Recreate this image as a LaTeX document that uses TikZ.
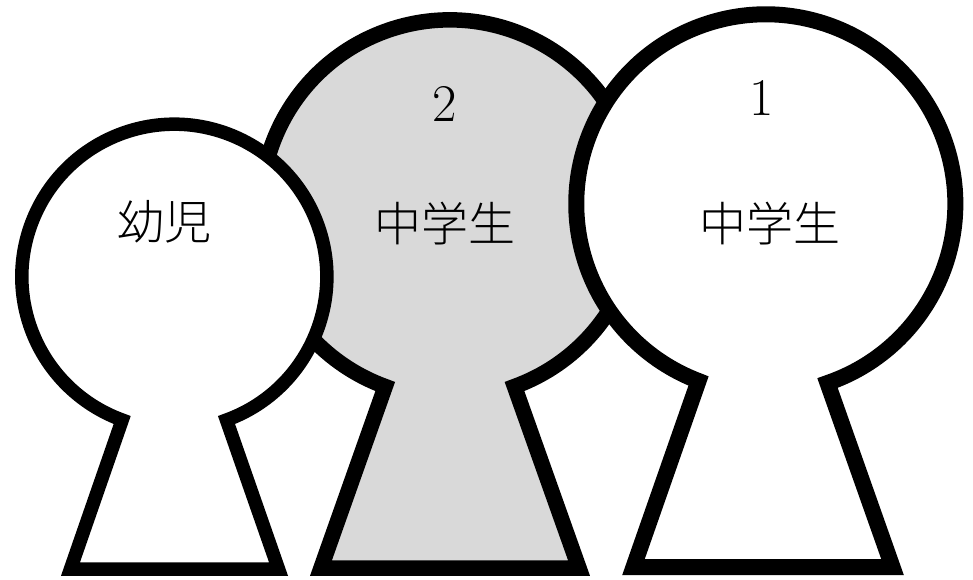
\documentclass[tikz,border=0pt]{standalone}
\usepackage{fontspec}
\newfontfamily\cjk{Noto Sans CJK JP Light}
\definecolor{figuregray}{HTML}{D9D9D9}
\tikzstyle{keyholestyle}=[
    draw=black,
    fill=white,
    line join=miter,
]
\tikzstyle{kanjilabel}=[
    inner sep=0pt,
    font=\cjk\fontsize{47}{52}\selectfont,
]
\tikzstyle{numberlabel}=[
    inner sep=0pt,
    font=\fontsize{53}{58}\selectfont,
]

\begin{document}
\begin{tikzpicture}[x=1pt, y=-1pt]
        \useasboundingbox (0,0) rectangle (973,579);
        \draw[keyholestyle, fill=figuregray, line width=15.5pt] (514.5,386.5) arc[start angle=70, end angle=-250, radius=189] -- (321,568) -- (579,568) -- cycle;
        \draw[keyholestyle, line width=13.5pt] (226.5,420) arc[start angle=70, end angle=-250, radius=152.5] -- (70.5,569) -- (278.5,569) -- cycle;
        \draw[keyholestyle, line width=16pt] (827.5,383) arc[start angle=71, end angle=-249.2, radius=189.5] -- (633.5,567) -- (892.5,567) -- cycle;
        \node (infant) at (164, 222) [kanjilabel] {幼児};
        \node (studentb) at (445, 224) [kanjilabel] {中学生};
        \node (studenta) at (770, 224) [kanjilabel] {中学生};
        \node (numberb) at (445, 104) [numberlabel] {2};
        \node (numbera) at (762, 98) [numberlabel] {1};
    \end{tikzpicture}
\end{document}
